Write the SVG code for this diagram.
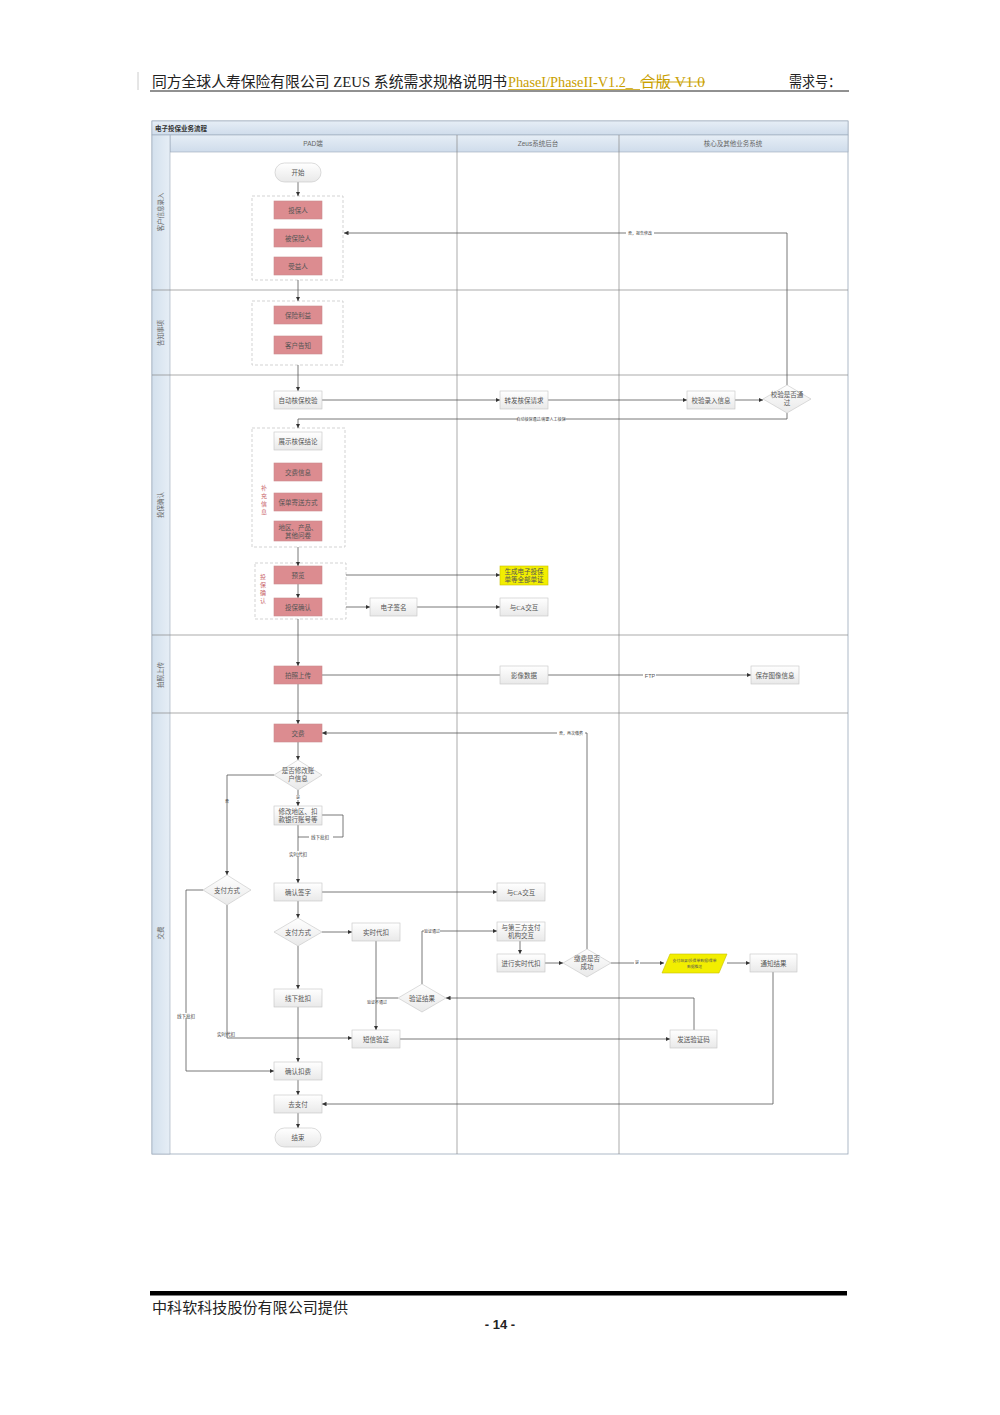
<svg xmlns="http://www.w3.org/2000/svg" width="1000" height="1415" viewBox="0 0 1000 1415">
<defs>
<linearGradient id="gw" x1="0" y1="0" x2="0" y2="1"><stop offset="0" stop-color="#ffffff"/><stop offset="1" stop-color="#e9e9e9"/></linearGradient>
<linearGradient id="gh" x1="0" y1="0" x2="0" y2="1"><stop offset="0" stop-color="#e6eef6"/><stop offset="1" stop-color="#cfdceb"/></linearGradient>
<linearGradient id="gl" x1="0" y1="0" x2="1" y2="0"><stop offset="0" stop-color="#d3e0ed"/><stop offset="1" stop-color="#e6eef6"/></linearGradient>
<marker id="a" viewBox="0 0 6 6" refX="6" refY="3" markerUnits="userSpaceOnUse" markerWidth="4.5" markerHeight="4.5" orient="auto"><path d="M0,0L6,3L0,6z" fill="#333"/></marker>
<style>
.hd{font-family:"Liberation Serif","Noto Sans CJK SC",serif;font-size:15px;fill:#222}
.t{font-family:"Liberation Serif","Noto Sans CJK SC",serif;font-size:6.5px;fill:#555;text-anchor:middle}
.s{font-family:"Liberation Sans","Noto Sans CJK SC",sans-serif;font-size:4px;fill:#444;text-anchor:middle}
.ln{font-family:"Liberation Sans","Noto Sans CJK SC",sans-serif;font-size:6.5px;fill:#666;text-anchor:middle}
.r{fill:#dc8c90;stroke:#c98a8c;stroke-width:0.6}
.w{fill:url(#gw);stroke:#c4c4c4;stroke-width:0.6}
.y{fill:#f2ee00;stroke:#c8c000;stroke-width:0.6}
.d{fill:#fff;stroke:#c8c8c8;stroke-width:0.8;stroke-dasharray:3,2}
.c path{fill:none;stroke:#555;stroke-width:0.8}
.c .m{marker-end:url(#a)}
.grid{stroke:#888;stroke-width:0.7;fill:none}
.rl{font-family:"Liberation Serif","Noto Sans CJK SC",serif;font-size:6px;fill:#c9666b;text-anchor:middle}
</style>
</defs>
<rect width="1000" height="1415" fill="#fff"/>
<g id="header">
<line x1="138" y1="72" x2="138" y2="90" stroke="#ccc" stroke-width="1"/>
<text class="hd" x="152" y="87" textLength="355" lengthAdjust="spacingAndGlyphs">同方全球人寿保险有限公司 ZEUS 系统需求规格说明书</text>
<text class="hd" x="508" y="87" style="fill:#c9a000" textLength="125" lengthAdjust="spacingAndGlyphs">PhaseI/PhaseII-V1.2_</text>
<line x1="508" y1="89.5" x2="640" y2="89.5" stroke="#c9a000" stroke-width="0.8"/>
<text class="hd" x="640" y="87" style="fill:#c9a000" textLength="65" lengthAdjust="spacingAndGlyphs">合版 V1.0</text>
<line x1="640" y1="82" x2="705" y2="82" stroke="#c9a000" stroke-width="0.9"/>
<text class="hd" x="789" y="87" textLength="52" lengthAdjust="spacingAndGlyphs">需求号：</text>
<line x1="150" y1="91" x2="849" y2="91" stroke="#222" stroke-width="1"/>
</g>
<g id="frame">
<rect x="152" y="121" width="696" height="1033" fill="#fff" stroke="#9aa8b8" stroke-width="0.8"/>
<rect x="152" y="121" width="696" height="14" fill="url(#gh)" stroke="#9aa8b8" stroke-width="0.6"/>
<text x="155" y="131" style="font-family:'Liberation Serif','Noto Sans CJK SC',serif;font-size:6.5px;fill:#333;font-weight:bold">电子投保业务流程</text>
<rect x="170" y="135" width="678" height="17" fill="url(#gh)" stroke="#9aa8b8" stroke-width="0.6"/>
<rect x="152" y="135" width="18" height="1019" fill="url(#gl)" stroke="#9aa8b8" stroke-width="0.6"/>
<text class="ln" x="313" y="146">PAD端</text>
<text class="ln" x="538" y="146">Zeus系统后台</text>
<text class="ln" x="733" y="146">核心及其他业务系统</text>
<path class="grid" d="M457,135V1154M619,135V1154"/>
<path class="grid" d="M152,290H848M152,375H848M152,635H848M152,713H848"/>
<text class="ln" transform="translate(163,212) rotate(-90)">客户信息录入</text>
<text class="ln" transform="translate(163,333) rotate(-90)">告知事项</text>
<text class="ln" transform="translate(163,505) rotate(-90)">投保确认</text>
<text class="ln" transform="translate(163,675) rotate(-90)">拍照上传</text>
<text class="ln" transform="translate(163,933) rotate(-90)">交费</text>
</g>
<g id="grp1"><rect class="d" x="252" y="196" width="91" height="84"/></g>
<g id="grp2"><rect class="d" x="252" y="301" width="91" height="64"/></g>
<g id="grp3"><rect class="d" x="252" y="428" width="93" height="119"/>
<text class="rl" x="264" y="490">补</text><text class="rl" x="264" y="498">充</text><text class="rl" x="264" y="506">信</text><text class="rl" x="264" y="514">息</text></g>
<g id="grp4"><rect class="d" x="255" y="563" width="91" height="56"/>
<text class="rl" x="263" y="579">投</text><text class="rl" x="263" y="587">保</text><text class="rl" x="263" y="595">确</text><text class="rl" x="263" y="603">认</text></g>
<g id="connectors" class="c">
<path class="m" d="M298,182V196"/>
<path class="m" d="M298,280V301"/>
<path class="m" d="M298,365V391"/>
<path class="m" d="M322,400H500"/>
<path class="m" d="M548,400H687"/>
<path class="m" d="M735,400H763"/>
<path class="m" d="M787,385V233H344"/>
<path class="m" d="M787,413V419H298V428"/>
<path class="m" d="M298,547V566"/>
<path class="m" d="M298,584V598"/>
<path class="m" d="M346,575H500"/>
<path class="m" d="M346,607H370"/>
<path class="m" d="M417,607H500"/>
<path class="m" d="M298,619V666"/>
<path class="m" d="M322,675H751"/>
<path class="m" d="M298,684V724"/>
<path class="m" d="M298,742V760"/>
<path class="m" d="M274,775H227V875"/>
<path class="m" d="M298,790V806"/>
<path d="M322,815H343V837H298"/>
<path class="m" d="M298,825V883"/>
<path class="m" d="M322,892H497"/>
<path class="m" d="M203,890H186V1071H274"/>
<path class="m" d="M227,905V1038H352"/>
<path class="m" d="M298,901V918"/>
<path class="m" d="M322,932H352"/>
<path class="m" d="M298,946V989"/>
<path class="m" d="M298,1007V1062"/>
<path class="m" d="M376,941V1030"/>
<path d="M398,998H376"/>
<path class="m" d="M422,984V931H497"/>
<path class="m" d="M520,941V954"/>
<path class="m" d="M545,963H563"/>
<path class="m" d="M587,949V733H322"/>
<path class="m" d="M611,963H664"/>
<path class="m" d="M727,963H750"/>
<path class="m" d="M773,972V1104H322"/>
<path class="m" d="M400,1039H670"/>
<path class="m" d="M694,1030V998H446"/>
<path class="m" d="M298,1080V1095"/>
<path class="m" d="M298,1113V1128"/>
<g>
<rect x="626" y="230.5" width="28" height="5" fill="#fff"/><text class="s" x="640" y="234.5">否，报告修改</text>
<rect x="518" y="416.5" width="46" height="5" fill="#fff"/><text class="s" x="541" y="420.5">自动核保通过/需要人工核保</text>
<rect x="643" y="672" width="13" height="6" fill="#fff"/><text class="ln" x="650" y="677.5" style="font-size:5.5px;fill:#555">FTP</text>
<rect x="557" y="730.5" width="28" height="5" fill="#fff"/><text class="s" x="571" y="734.5">否，再次缴费</text>
<text class="s" x="227" y="803">否</text>
<rect x="295" y="795" width="6" height="5" fill="#fff"/><text class="s" x="298" y="799">是</text>
<rect x="309" y="834.5" width="24" height="5" fill="#fff"/><text class="s" x="320" y="839" style="font-size:4.5px">线下批扣</text>
<rect x="286" y="851" width="24" height="5" fill="#fff"/><text class="s" x="298" y="855.5" style="font-size:4.5px">实时代扣</text>
<rect x="174" y="1013" width="24" height="5" fill="#fff"/><text class="s" x="186" y="1018" style="font-size:4.5px">线下批扣</text>
<text class="s" x="226" y="1036" style="font-size:4.5px">实时代扣</text>
<rect x="424" y="928.5" width="16" height="5" fill="#fff"/><text class="s" x="432" y="932.5">验证通过</text>
<text class="s" x="377" y="1004">验证不通过</text>
<rect x="634" y="960" width="6" height="5" fill="#fff"/><text class="s" x="637" y="964">是</text>
</g>
</g>
<g id="n_start"><rect x="275" y="163" width="46" height="19" rx="9.5" class="w"/><text class="t" x="298" y="175">开始</text></g>
<g id="n_tbr"><rect x="274" y="201" width="48" height="18" class="r"/><text class="t" x="298" y="212.5">投保人</text></g>
<g id="n_bbxr"><rect x="274" y="229" width="48" height="18" class="r"/><text class="t" x="298" y="240.5">被保险人</text></g>
<g id="n_syr"><rect x="274" y="257" width="48" height="18" class="r"/><text class="t" x="298" y="268.5">受益人</text></g>
<g id="n_bxly"><rect x="274" y="306" width="48" height="18" class="r"/><text class="t" x="298" y="317.5">保险利益</text></g>
<g id="n_khgz"><rect x="274" y="336" width="48" height="18" class="r"/><text class="t" x="298" y="347.5">客户告知</text></g>
<g id="n_zdhb"><rect x="274" y="391" width="48" height="18" class="w"/><text class="t" x="298" y="402.5">自动核保校验</text></g>
<g id="n_zfhb"><rect x="500" y="391" width="48" height="18" class="w"/><text class="t" x="524" y="402.5">转发核保请求</text></g>
<g id="n_jylr"><rect x="687" y="391" width="48" height="18" class="w"/><text class="t" x="711" y="402.5">校验录入信息</text></g>
<g id="n_jysf"><path d="M787,385L811,399L787,413L763,399Z" class="w"/><text class="t" x="787" y="397">校验是否通</text><text class="t" x="787" y="405">过</text></g>
<g id="n_zshb"><rect x="274" y="432" width="48" height="18" class="w"/><text class="t" x="298" y="443.5">展示核保结论</text></g>
<g id="n_jfxx"><rect x="274" y="463" width="48" height="18" class="r"/><text class="t" x="298" y="474.5">交费信息</text></g>
<g id="n_bdjs"><rect x="274" y="493" width="48" height="18" class="r"/><text class="t" x="298" y="504.5">保单寄送方式</text></g>
<g id="n_dq"><rect x="274" y="521" width="48" height="20" class="r"/><text class="t" x="298" y="529.5">地区、产品、</text><text class="t" x="298" y="537.5">其他问卷</text></g>
<g id="n_yl"><rect x="274" y="566" width="48" height="18" class="r"/><text class="t" x="298" y="577.5">预览</text></g>
<g id="n_tbqr"><rect x="274" y="598" width="48" height="18" class="r"/><text class="t" x="298" y="609.5">投保确认</text></g>
<g id="n_sc"><rect x="500" y="566" width="48" height="19" class="y"/><text class="t" x="524" y="573.5" style="fill:#555">生成电子投保</text><text class="t" x="524" y="581.5" style="fill:#555">单等全部单证</text></g>
<g id="n_dzqm"><rect x="370" y="598" width="47" height="18" class="w"/><text class="t" x="393.5" y="609.5">电子签名</text></g>
<g id="n_ca1"><rect x="500" y="598" width="48" height="18" class="w"/><text class="t" x="524" y="609.5">与CA交互</text></g>
<g id="n_pzsc"><rect x="274" y="666" width="48" height="18" class="r"/><text class="t" x="298" y="677.5">拍照上传</text></g>
<g id="n_yxsj"><rect x="500" y="666" width="48" height="18" class="w"/><text class="t" x="524" y="677.5">影像数据</text></g>
<g id="n_bctx"><rect x="751" y="666" width="48" height="18" class="w"/><text class="t" x="775" y="677.5">保存图像信息</text></g>
<g id="n_jf"><rect x="274" y="724" width="48" height="18" class="r"/><text class="t" x="298" y="735.5">交费</text></g>
<g id="n_sfxg"><path d="M298,760L322,775L298,790L274,775Z" class="w"/><text class="t" x="298" y="773">是否修改账</text><text class="t" x="298" y="781">户信息</text></g>
<g id="n_xgdq"><rect x="274" y="806" width="48" height="19" class="w"/><text class="t" x="298" y="814">修改地区、扣</text><text class="t" x="298" y="822">款银行账号等</text></g>
<g id="n_zffs1"><path d="M227,875L251,890L227,905L203,890Z" class="w"/><text class="t" x="227" y="892.5">支付方式</text></g>
<g id="n_qrqz"><rect x="274" y="883" width="48" height="18" class="w"/><text class="t" x="298" y="894.5">确认签字</text></g>
<g id="n_ca2"><rect x="497" y="883" width="48" height="18" class="w"/><text class="t" x="521" y="894.5">与CA交互</text></g>
<g id="n_zffs2"><path d="M298,918L322,932L298,946L274,932Z" class="w"/><text class="t" x="298" y="934.5">支付方式</text></g>
<g id="n_sskk"><rect x="352" y="923" width="48" height="18" class="w"/><text class="t" x="376" y="934.5">实时代扣</text></g>
<g id="n_dsf"><rect x="497" y="922" width="48" height="19" class="w"/><text class="t" x="521" y="930">与第三方支付</text><text class="t" x="521" y="938">机构交互</text></g>
<g id="n_jxss"><rect x="497" y="954" width="48" height="18" class="w"/><text class="t" x="521" y="965.5">进行实时代扣</text></g>
<g id="n_jfcg"><path d="M587,949L611,963L587,977L563,963Z" class="w"/><text class="t" x="587" y="961">缴费是否</text><text class="t" x="587" y="969">成功</text></g>
<g id="n_ts"><path d="M670,954H727L719,973H662Z" class="y"/><text class="s" x="694.5" y="962" style="fill:#555;font-size:3.8px">支付结果/投保单数据/保单</text><text class="s" x="694.5" y="968" style="fill:#555;font-size:3.8px">数据推送</text></g>
<g id="n_tzjg"><rect x="750" y="954" width="47" height="18" class="w"/><text class="t" x="773.5" y="965.5">通知结果</text></g>
<g id="n_xxpk"><rect x="274" y="989" width="48" height="18" class="w"/><text class="t" x="298" y="1000.5">线下批扣</text></g>
<g id="n_yzjg"><path d="M422,984L446,998L422,1012L398,998Z" class="w"/><text class="t" x="422" y="1000.5">验证结果</text></g>
<g id="n_dxyz"><rect x="352" y="1030" width="48" height="18" class="w"/><text class="t" x="376" y="1041.5">短信验证</text></g>
<g id="n_fsyz"><rect x="670" y="1030" width="47" height="18" class="w"/><text class="t" x="693.5" y="1041.5">发送验证码</text></g>
<g id="n_qrkf"><rect x="274" y="1062" width="48" height="18" class="w"/><text class="t" x="298" y="1073.5">确认扣费</text></g>
<g id="n_qzf"><rect x="274" y="1095" width="48" height="18" class="w"/><text class="t" x="298" y="1106.5">去支付</text></g>
<g id="n_end"><rect x="275" y="1128" width="46" height="19" rx="9.5" class="w"/><text class="t" x="298" y="1140">结束</text></g>
<g id="footer">
<rect x="150" y="1291" width="697" height="4.5" fill="#000"/>
<text class="hd" x="152" y="1313" textLength="196" lengthAdjust="spacingAndGlyphs">中科软科技股份有限公司提供</text>
<text x="500" y="1329" text-anchor="middle" style="font-family:'Liberation Sans',sans-serif;font-size:13px;font-weight:bold;fill:#222">- 14 -</text>
</g>
</svg>
